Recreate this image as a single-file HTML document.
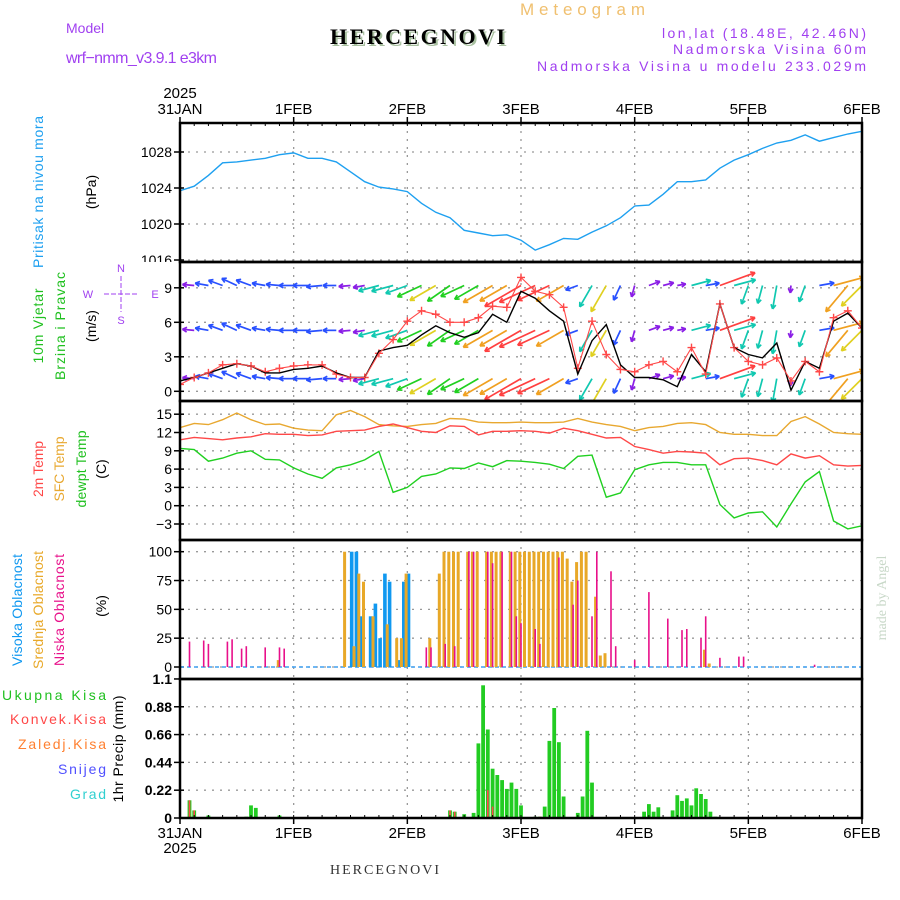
<!DOCTYPE html>
<html><head><meta charset="utf-8"><style>
html,body{margin:0;padding:0;background:#fff;width:900px;height:900px;overflow:hidden}
svg text{font-family:"Liberation Sans",sans-serif}
</style></head><body>
<svg id="chart" xmlns="http://www.w3.org/2000/svg" width="900" height="900" viewBox="0 0 900 900">
<defs>
<clipPath id="cp-pres"><rect x="180" y="123" width="682" height="139"/></clipPath>
<clipPath id="cp-wind"><rect x="180" y="263" width="682" height="137"/></clipPath>
<clipPath id="cp-temp"><rect x="180" y="402" width="682" height="137"/></clipPath>
<clipPath id="cp-presl"><rect x="100" y="100" width="80" height="162"/></clipPath>
</defs>
<text x="520" y="15" font-size="17" fill="#f0c070" textLength="125">Meteogram</text>
<text x="66" y="33" font-size="14" fill="#a040f0">Model</text>
<text x="66" y="63" font-size="16" fill="#a040f0" textLength="151">wrf−nmm_v3.9.1 e3km</text>
<text x="332" y="46" font-size="22" font-weight="bold" fill="#a8c0a0" textLength="175" style="font-family:'Liberation Serif',serif">HERCEGNOVI</text>
<text x="330" y="44" font-size="22" font-weight="bold" fill="#000" textLength="175" style="font-family:'Liberation Serif',serif">HERCEGNOVI</text>
<text x="866" y="38" font-size="14" fill="#a040f0" text-anchor="end" textLength="204">lon,lat (18.48E, 42.46N)</text>
<text x="866" y="54" font-size="14" fill="#a040f0" text-anchor="end" textLength="193">Nadmorska Visina 60m</text>
<text x="866" y="71" font-size="14" fill="#a040f0" text-anchor="end" textLength="329">Nadmorska Visina u modelu 233.029m</text>
<text x="330" y="874" font-size="14" fill="#333" textLength="109" style="font-family:'Liberation Serif',serif">HERCEGNOVI</text>
<text transform="translate(886,598) rotate(-90)" font-size="14" fill="#c8d8c8" text-anchor="middle" style="font-family:'Liberation Serif',serif">made by Angel</text>
<g id="grid"></g>
<g id="marks"></g>
<g id="labels"></g>
<g id="frames"></g>
</svg>
<script>
const NS='http://www.w3.org/2000/svg';
// ---- data (3-hourly from 31JAN 00 to 6FEB 00) ----
const dayLabels=['31JAN','1FEB','2FEB','3FEB','4FEB','5FEB','6FEB'];
const pressure=[1023.7,1024.2,1025.4,1026.8,1026.9,1027.1,1027.3,1027.7,1027.9,1027.3,1027.3,1026.9,1025.8,1024.7,1024.1,1023.9,1023.6,1022.3,1021.3,1020.7,1019.3,1019.0,1018.7,1018.8,1018.2,1017.1,1017.7,1018.4,1018.3,1019.1,1019.8,1020.7,1022.0,1022.1,1023.3,1024.7,1024.7,1024.9,1026.2,1027.1,1027.7,1028.4,1029.0,1029.3,1029.9,1029.2,1029.6,1030.0,1030.3];
const windSpeed=[0.9,1.2,1.6,2.0,2.4,2.2,1.6,1.6,1.9,2.0,2.2,1.6,1.2,1.2,3.5,3.8,4.0,4.9,5.7,5.1,4.7,5.1,6.7,6.0,8.7,8.1,7.0,6.1,1.5,4.4,5.8,2.3,1.2,1.2,1.0,0.4,3.2,1.7,7.6,3.8,3.2,2.9,4.2,0.1,2.6,2.0,6.1,6.8,5.5];
const windGust=[0.6,1.2,1.6,2.3,2.4,2.2,1.7,2.0,2.2,2.3,2.3,1.5,1.2,1.2,3.3,4.5,6.1,7.0,6.7,6.0,6.0,6.4,7.4,7.3,9.9,8.7,8.4,7.3,2.0,6.1,3.2,1.9,1.7,2.3,2.6,1.7,3.8,1.5,7.6,3.8,2.6,2.3,2.9,0.9,2.6,1.7,6.4,7.0,5.5];
const windDir=[90,95,100,110,115,110,100,95,90,90,85,90,85,80,75,75,70,65,60,55,65,60,60,60,60,65,65,60,70,30,30,25,15,250,255,260,255,260,250,255,20,15,10,5,20,260,255,40,45];
const windRows=[9.2,5.3,1.1];
const tempSfc=[12.8,13.5,13.3,14.1,15.2,14.1,13.3,13.4,12.7,12.4,12.3,14.9,15.6,14.6,13.3,13.1,13.0,13.3,13.5,14.3,14.2,13.7,13.6,13.6,13.7,13.6,13.6,13.7,14.3,13.7,13.3,13.0,12.3,12.8,13.0,13.5,13.6,13.3,12.0,11.7,11.7,11.5,11.5,13.8,14.6,13.4,12.0,11.8,11.7];
const temp2m=[10.8,11.2,11.0,10.8,11.1,11.3,11.8,11.7,11.7,11.5,11.6,12.2,12.3,12.4,13.0,13.4,12.8,12.2,12.0,13.1,13.0,11.6,12.2,12.2,12.3,12.2,11.9,12.7,12.3,11.7,11.1,11.2,9.7,9.2,8.6,8.9,8.8,8.6,6.7,7.7,7.8,7.4,6.7,8.5,7.8,8.2,6.7,6.5,6.6];
const tempDew=[9.4,9.2,7.3,7.8,8.6,9.0,7.6,7.5,6.2,5.2,4.5,6.2,6.7,7.5,8.9,2.2,3.0,4.8,5.2,6.2,6.1,7.0,6.4,7.4,7.3,7.1,6.8,6.1,8.1,8.3,1.4,2.1,5.9,6.7,7.1,7.1,6.7,6.7,0.2,-2.0,-1.2,-1.0,-3.5,0.3,3.9,5.6,-2.5,-3.8,-3.3];
// cloud cover (hour, %)
const lowHours=[2,5,6,10,11,13,14,18,21,22,52,53,56,58,61,62,65,66,68,70,71,72,75,76,80,83,84,87,88,91,92,96,99,103,106,107,110,111,114,118,119,134];
const lowVals=[22,23,20,22,24,16,18,17,17,16,17,17,20,18,100,100,100,90,100,100,44,38,33,20,95,54,75,44,100,83,18,6,65,42,32,33,25,44,8,9,9,2];
const midHours=[21,35,37,38,39,41,44,46,47,48,53,55,56,57,58,59,61,62,63,65,66,67,68,70,71,72,73,74,75,76,77,78,79,80,81,82,83,84,85,86,88,89,90,111,112];
const midVals=[6,100,18,81,74,44,37,25,25,81,25,81,100,100,100,100,100,100,100,100,100,100,100,100,100,100,100,100,100,100,100,100,100,100,100,94,74,91,100,100,61,10,12,15,3];
const highHours=[36,37,38,40,41,42,43,44,46,47,48];
const highVals=[100,100,44,44,55,25,81,74,6,74,81];
// precipitation (hour, mm)
const rainHours=[2,3,6,14,15,16,21,57,58,60,62,63,64,65,66,67,68,69,70,71,72,75,76,77,78,79,80,81,84,85,86,87,98,99,100,101,104,105,106,107,108,109,110,111,112,113];
const rainVals=[0.14,0.06,0.02,0.01,0.10,0.08,0.02,0.06,0.05,0.03,0.04,0.59,1.05,0.70,0.39,0.34,0.30,0.23,0.28,0.23,0.10,0.01,0.01,0.09,0.61,0.87,0.60,0.17,0.04,0.17,0.69,0.28,0.05,0.11,0.05,0.085,0.06,0.18,0.135,0.155,0.10,0.235,0.19,0.15,0.05,0.01];
const convHours=[2,3,57,58,65,66,76];
const convVals=[0.14,0.06,0.06,0.05,0.22,0.09,0.01];
const presTicks=[1016,1020,1024,1028];
const windTicks=[0,3,6,9];
const tempTicks=[-3,0,3,6,9,12,15];
const cloudTicks=[0,25,50,75,100];
const precipTicks=[0,0.22,0.44,0.66,0.88,1.1];
const precipTickLabels=['0','0.22','0.44','0.66','0.88','1.1'];

// ---- axes ----
const X0=180,X1=862,HOURS=144;
const xH=h=>X0+h*(X1-X0)/HOURS;
const x3=i=>xH(i*3);
const yPres=v=>260-9*(v-1016);
const yWind=v=>391.3-11.5*v;
const yTemp=v=>505.7-6.1*v;
const yCloud=v=>667-1.153*v;
const yPrec=v=>818-126.4*v;
const panels=[{t:123,b:262},{t:262,b:401},{t:401,b:540},{t:540,b:679},{t:679,b:818}];

function el(tag,attrs,parent){const e=document.createElementNS(NS,tag);for(const k in attrs)e.setAttribute(k,attrs[k]);parent.appendChild(e);return e;}
const G=document.getElementById('grid'),M=document.getElementById('marks'),L=document.getElementById('labels'),F=document.getElementById('frames');

for(let d=1;d<6;d++){const l=el('line',{x1:xH(d*24),x2:xH(d*24),y1:123,y2:818,stroke:'#999','stroke-dasharray':'2,6','stroke-width':1.3},G);

}
function hgrid(ticks,fy,fmt,bold,name,clip){
  ticks.forEach((v,i)=>{const y=fy(v);
    const g=el('line',{x1:X0,x2:X1,y1:y,y2:y,stroke:'#999','stroke-dasharray':'2,6','stroke-width':1.3},G);
    
    
    el('line',{x1:X0-6,x2:X0+4,y1:y,y2:y,stroke:'#000','stroke-width':1.5},G);
    const t=el('text',{x:172,y:y+5,'font-size':14,'text-anchor':'end',fill:'#000','font-weight':bold?'bold':'normal'},L);
    if(clip)t.setAttribute('clip-path','url(#cp-presl)');
    t.textContent=fmt(v,i);
    
    
  });
}
hgrid(presTicks,yPres,v=>v,false,'pressure',true);
hgrid(windTicks,yWind,v=>v,false,'wind');
hgrid(tempTicks,yTemp,v=>v<0?'−'+(-v):v,false,'temp');
hgrid(cloudTicks,yCloud,v=>v,false,'cloud');
hgrid(precipTicks,yPrec,(v,i)=>precipTickLabels[i],true,'precip');

dayLabels.forEach((s,d)=>{
  const x=xH(d*24);
  const a=el('text',{x:x,y:114,'font-size':15,'text-anchor':'middle'},L);a.textContent=s;
  
  
  const b=el('text',{x:x,y:838,'font-size':15,'text-anchor':'middle'},L);b.textContent=s;
  
  
  el('line',{x1:x,x2:x,y1:818,y2:824,stroke:'#000','stroke-width':1.5},F);
  el('line',{x1:x,x2:x,y1:117,y2:123,stroke:'#000','stroke-width':1.5},F);
});
for(let h=3;h<HOURS;h+=3){el('line',{x1:xH(h),x2:xH(h),y1:815,y2:818,stroke:'#000','stroke-width':1},F);el('line',{x1:xH(h),x2:xH(h),y1:123,y2:126,stroke:'#000','stroke-width':1},F);}
[[180,98],[180,853]].forEach(p=>{const t=el('text',{x:p[0],y:p[1],'font-size':15,'text-anchor':'middle'},L);t.textContent='2025';

});

function poly(arr,fx,fy,color,name,clip,w){
  const pts=arr.map((v,i)=>fx(i).toFixed(1)+','+fy(v).toFixed(1)).join(' ');
  const p=el('polyline',{points:pts,fill:'none',stroke:color,'stroke-width':w||1.4},M);
  if(clip)p.setAttribute('clip-path','url(#'+clip+')');
  
  
  return p;
}
poly(pressure,x3,yPres,'#1ea0f0','pressure-line','cp-pres');
function windColor(s){return s<1.3?'#8a1ee6':s<2.6?'#2850ff':s<4.5?'#10c8b0':s<5.5?'#20d020':s<6.0?'#e0d020':s<7?'#f0a020':'#ff4040';}
const WG=el('g',{'clip-path':'url(#cp-wind)'},M);
windRows.forEach(r=>{
  const by=yWind(r);
  windDir.forEach((d,i)=>{
    const s=windSpeed[i],Ln=7+4*s,th=(d+180)*Math.PI/180;
    const x=x3(i),dx=Math.sin(th)*Ln,dy=-Math.cos(th)*Ln,c=windColor(s);
    const g=el('g',{stroke:c,'stroke-width':1.7,fill:'none'},WG);
    
    
    el('line',{x1:x,y1:by,x2:x+dx,y2:by+dy},g);
    const ux=dx/Ln,uy=dy/Ln,hx=x+dx,hy=by+dy,hl=5;
    [0.5,-0.5].forEach(a=>{const ca=Math.cos(a),sa=Math.sin(a);
      const rx=-(ux*ca-uy*sa)*hl,ry=-(ux*sa+uy*ca)*hl;
      el('line',{x1:hx,y1:hy,x2:hx+rx,y2:hy+ry},g);});
  });
});
poly(windSpeed,x3,yWind,'#000','wind-speed-line','cp-wind',1.4);
poly(windGust,x3,yWind,'#ff4848','wind-gust-line','cp-wind',1.1);
windGust.forEach((v,i)=>{const x=x3(i),y=yWind(v);
  const p=el('path',{d:`M${x-4},${y}h8M${x},${y-4}v8`,stroke:'#ff4848','stroke-width':1.4},WG);
  
  });
poly(tempSfc,x3,yTemp,'#e8a830','sfc-temp-line','cp-temp');
poly(temp2m,x3,yTemp,'#ff4848','2m-temp-line','cp-temp');
poly(tempDew,x3,yTemp,'#20d020','dewpoint-line','cp-temp');
el('line',{x1:X0,x2:X1,y1:667,y2:667,stroke:'#40a0f0','stroke-width':1.5,'stroke-dasharray':'4,3'},M);
function bars(hours,vals,fy,color,w,off,name,base){
  hours.forEach((h,i)=>{const x=xH(h)+off,y=fy(vals[i]);
    const r=el('rect',{x:(x-w/2).toFixed(1),y:y.toFixed(1),width:w,height:Math.max(0,base-y).toFixed(1),fill:color},M);
    
    });
}
bars(highHours,highVals,yCloud,'#1098f0',3.6,1.2,'high-cloud-bar',667);
bars(midHours,midVals,yCloud,'#e8a828',3,-1.2,'mid-cloud-bar',667);
bars(lowHours,lowVals,yCloud,'#e8108a',1.6,0,'low-cloud-bar',667);
bars(rainHours,rainVals,yPrec,'#22cc22',3.8,0,'total-precip-bar',818);
bars(convHours,convVals,yPrec,'#ff4848',1.6,0,'convective-precip-bar',818);

panels.forEach(p=>{const r=el('rect',{x:X0,y:p.t,width:X1-X0,height:p.b-p.t,fill:'none',stroke:'#000','stroke-width':2.5},F);

});

function vlab(x,cy,txt,color,name,len){const t=el('text',{transform:`translate(${x},${cy}) rotate(-90)`,'font-size':14,'text-anchor':'middle',fill:color},L);
 if(len)t.setAttribute('textLength',len);t.textContent=txt;
 
 }
vlab(43,192,'Pritisak na nivou mora','#1ea0f0','pressure-axis-title',152);
vlab(96,192,'(hPa)','#000','pressure-unit');
vlab(43,326,'10m Vjetar','#20c020','wind-axis-title',75);
vlab(65,326,'Brzina i Pravac','#20c020','wind-axis-subtitle',108);
vlab(96,326,'(m/s)','#000','wind-unit');
vlab(43,469,'2m Temp','#ff4848','temp2m-title',56);
vlab(64,469,'SFC Temp','#e8a830','sfc-temp-title',65);
vlab(86,469,'dewpt Temp','#20c020','dewpoint-title',77);
vlab(106,469,'(C)','#000','temp-unit');
vlab(22,610,'Visoka Oblacnost','#1098f0','high-cloud-title',112);
vlab(43,610,'Srednja Oblacnost','#e8a828','mid-cloud-title',118);
vlab(64,610,'Niska Oblacnost','#e8108a','low-cloud-title',112);
vlab(106,606,'(%)','#000','cloud-unit');
vlab(123,749,'1hr Precip (mm)','#000','precip-axis-title',107);
[['Ukupna Kisa','#20c020',700,'rain-legend',104],['Konvek.Kisa','#ff4848',724,'convective-legend',96],['Zaledj.Kisa','#ff8030',749,'freezing-legend',88],['Snijeg','#5050ff',774,'snow-legend',48],['Grad','#30d0d0',799,'hail-legend',36]].forEach(a=>{
  const t=el('text',{x:106,y:a[2],'font-size':14,'text-anchor':'end',fill:a[1],textLength:a[4]},L);t.textContent=a[0];
  
  });
const C=el('g',{fill:'#a040f0',stroke:'#a040f0','font-size':11},L);


el('line',{x1:104,x2:138,y1:294,y2:294,'stroke-width':1,'stroke-dasharray':'5,2'},C);
el('line',{x1:121,x2:121,y1:276,y2:312,'stroke-width':1,'stroke-dasharray':'5,2'},C);
[['N',121,272],['S',121,324],['W',88,298],['E',155,298]].forEach(a=>{const t=el('text',{x:a[1],y:a[2],'text-anchor':'middle',stroke:'none'},C);t.textContent=a[0];});
</script>
</body></html>
